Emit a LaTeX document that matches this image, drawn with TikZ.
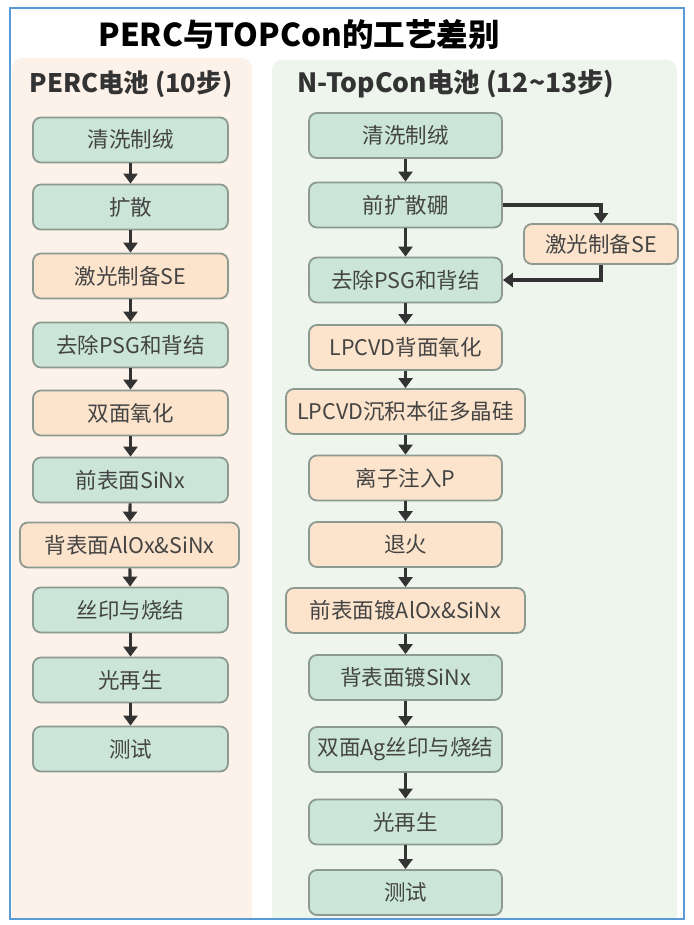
\documentclass[tikz,border=0pt]{standalone}
\usepackage{fontspec}
\setmainfont{Noto Sans CJK SC}
\usetikzlibrary{arrows.meta}

\definecolor{framblue}{HTML}{5B9BD5}
\definecolor{panelpeach}{HTML}{FDF2EA}
\definecolor{panelgreen}{HTML}{EDF5EC}
\definecolor{boxgreen}{HTML}{CBE6D8}
\definecolor{boxpeach}{HTML}{FCE3CB}
\definecolor{edgegray}{HTML}{8C9A92}
\definecolor{txtgray}{HTML}{444444}

\begin{document}
\begin{tikzpicture}[x=1pt,y=-1pt,
    stepg/.style={draw=edgegray,line width=1.8pt,fill=boxgreen,rounded corners=8pt,
      minimum width=195pt,minimum height=45pt,inner sep=0pt,text=txtgray,
      font=\fontsize{21.5}{24}\selectfont},
    stepp/.style={stepg,fill=boxpeach},
    flow/.style={draw=black!80,line width=3.2pt,-{Triangle[length=10pt,width=14pt]}}]

    \useasboundingbox (0,0) rectangle (693,925);
    \fill [white] (0,0) rectangle (693,925);

    % panels
    \fill [panelpeach,rounded corners=10pt] (12,918) -- (12,58) -- (252,58) -- (252,918);
    \fill [panelgreen,rounded corners=10pt] (272,918) -- (272,60) -- (677,60) -- (677,918);
    \draw [framblue,line width=1.5pt] (10,8) rectangle (684,919);

    \node (title) at (299,35) {\fontsize{31.5}{34}\selectfont\bfseries PERC与TOPCon的工艺差别};
    \node [text=black!80] (hperc) at (131,84) {\fontsize{25.5}{28}\selectfont\bfseries PERC电池 (10步)};
    \node [text=black!80] (htop) at (456,84) {\fontsize{26.5}{28}\selectfont\bfseries N-TopCon电池 (12\textasciitilde13步)};

    % PERC
    \node [stepg] (l1) at (130.5,140) {清洗制绒};
    \node [stepg] (l2) at (130.5,207) {扩散};
    \node [stepp] (l3) at (130.5,276) {激光制备SE};
    \node [stepg] (l4) at (130.5,345) {去除PSG和背结};
    \node [stepp] (l5) at (130.5,413) {双面氧化};
    \node [stepg] (l6) at (130.5,480) {前表面SiNx};
    \node [stepp,minimum width=219pt] (l7) at (129.5,545) {背表面AlOx\&SiNx};
    \node [stepg] (l8) at (130.5,610) {丝印与烧结};
    \node [stepg] (l9) at (130.5,680) {光再生};
    \node [stepg] (l10) at (130.5,749) {测试};

    % TopCon
    \node [stepg,minimum width=193pt] (r1) at (405.5,135.5) {清洗制绒};
    \node [stepg,minimum width=193pt] (r2) at (405.5,205) {前扩散硼};
    \node [stepp,minimum width=154pt,minimum height=40pt] (se) at (601,244) {激光制备SE};
    \node [stepg,minimum width=193pt] (r3) at (405.5,280) {去除PSG和背结};
    \node [stepp,minimum width=193pt] (r4) at (405.5,347.5) {LPCVD背面氧化};
    \node [stepp,minimum width=239pt] (r5) at (405.5,411.5) {LPCVD沉积本征多晶硅};
    \node [stepp,minimum width=193pt] (r6) at (405.5,478) {离子注入P};
    \node [stepp,minimum width=193pt] (r7) at (405.5,544.5) {退火};
    \node [stepp,minimum width=239pt] (r8) at (405.5,610.5) {前表面镀AlOx\&SiNx};
    \node [stepg,minimum width=193pt] (r9) at (405.5,677.5) {背表面镀SiNx};
    \node [stepg,minimum width=193pt] (r10) at (405.5,749.5) {双面Ag丝印与烧结};
    \node [stepg,minimum width=193pt] (r11) at (405.5,822) {光再生};
    \node [stepg,minimum width=193pt] (r12) at (405.5,892.5) {测试};

    \foreach \a/\b in {l1/l2,l2/l3,l3/l4,l4/l5,l5/l6,l6/l7,l7/l8,l8/l9,l9/l10,
        r1/r2,r2/r3,r3/r4,r4/r5,r5/r6,r6/r7,r7/r8,r8/r9,r9/r10,r10/r11,r11/r12}
        \draw [flow] (\a) -- (\b);

    \draw [flow] (r2.east) -| (se.north);
    \draw [flow] (se.south) |- (r3.east);
\end{tikzpicture}
\end{document}
